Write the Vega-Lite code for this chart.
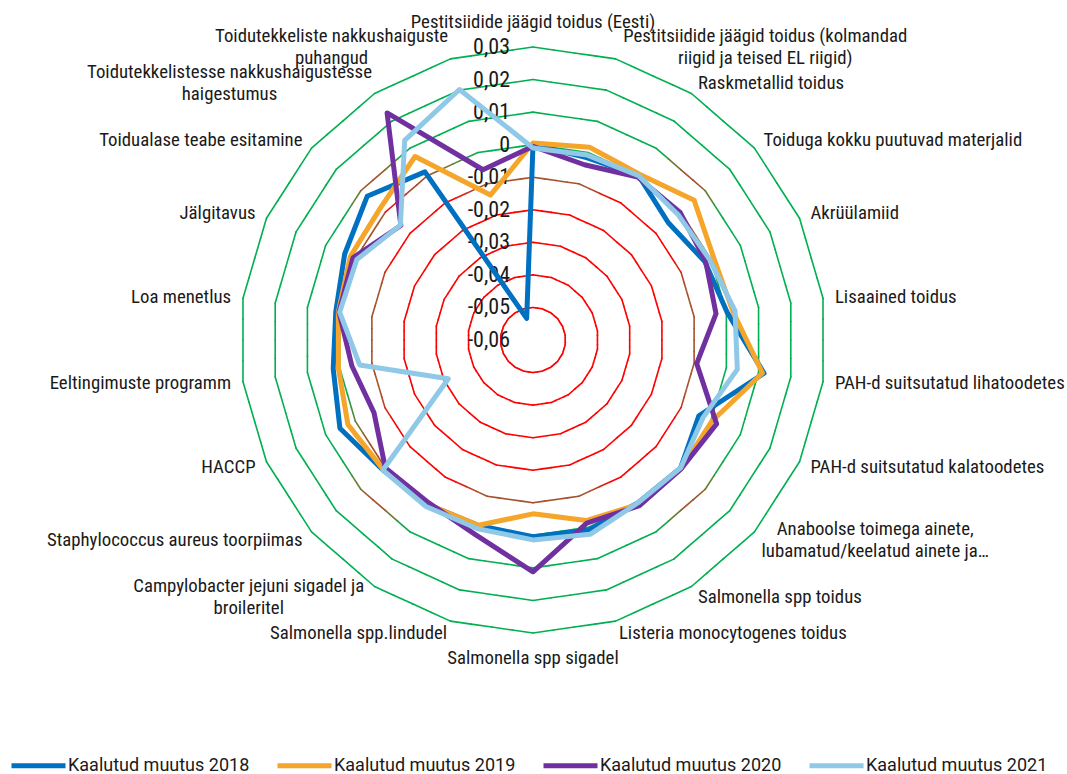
{
  "$schema": "https://vega.github.io/schema/vega-lite/v6.json",
  "width": 1067,
  "height": 774,
  "padding": 0,
  "autosize": {"type": "none"},
  "background": "white",
  "config": {"view": {"stroke": null}},
  "datasets": {
    "cats": [
      {"i": 0, "label": "Pestitsiidide jäägid toidus (Eesti)", "Kaalutud muutus 2018": 0, "Kaalutud muutus 2019": 0.0005, "Kaalutud muutus 2020": -0.0005, "Kaalutud muutus 2021": -0.001},
      {"i": 1, "label": "Pestitsiidide jäägid toidus (kolmandad\nriigid ja teised EL riigid)", "Kaalutud muutus 2018": -0.0016, "Kaalutud muutus 2019": 0.0017, "Kaalutud muutus 2020": -0.0039, "Kaalutud muutus 2021": -0.0008},
      {"i": 2, "label": "Raskmetallid toidus", "Kaalutud muutus 2018": 0, "Kaalutud muutus 2019": 0.0005, "Kaalutud muutus 2020": -0.0005, "Kaalutud muutus 2021": 0},
      {"i": 3, "label": "Toiduga kokku puutuvad materjalid", "Kaalutud muutus 2018": -0.005, "Kaalutud muutus 2019": 0.0055, "Kaalutud muutus 2020": -0.0002, "Kaalutud muutus 2021": -0.0011},
      {"i": 4, "label": "Akrüülamiid", "Kaalutud muutus 2018": -0.002, "Kaalutud muutus 2019": 0.001, "Kaalutud muutus 2020": -0.0017, "Kaalutud muutus 2021": -0.0004},
      {"i": 5, "label": "Lisaained toidus", "Kaalutud muutus 2018": 0.0002, "Kaalutud muutus 2019": 0.002, "Kaalutud muutus 2020": -0.0032, "Kaalutud muutus 2021": 0.0027},
      {"i": 6, "label": "PAH-d suitsutatud lihatoodetes", "Kaalutud muutus 2018": 0.0117, "Kaalutud muutus 2019": 0.0112, "Kaalutud muutus 2020": -0.0092, "Kaalutud muutus 2021": 0.0034},
      {"i": 7, "label": "PAH-d suitsutatud kalatoodetes", "Kaalutud muutus 2018": -0.004, "Kaalutud muutus 2019": 0.0003, "Kaalutud muutus 2020": 0.002, "Kaalutud muutus 2021": -0.0026},
      {"i": 8, "label": "Anaboolse toimega ainete,\nlubamatud/keelatud ainete ja…", "Kaalutud muutus 2018": 0, "Kaalutud muutus 2019": 0.0003, "Kaalutud muutus 2020": 0.0003, "Kaalutud muutus 2021": 0},
      {"i": 9, "label": "Salmonella spp toidus", "Kaalutud muutus 2018": -0.0005, "Kaalutud muutus 2019": 0, "Kaalutud muutus 2020": 0.0005, "Kaalutud muutus 2021": -0.0005},
      {"i": 10, "label": "Listeria monocytogenes toidus", "Kaalutud muutus 2018": 0.0008, "Kaalutud muutus 2019": -0.0022, "Kaalutud muutus 2020": -0.0014, "Kaalutud muutus 2021": 0.0022},
      {"i": 11, "label": "Salmonella spp sigadel", "Kaalutud muutus 2018": 0.0004, "Kaalutud muutus 2019": -0.0066, "Kaalutud muutus 2020": 0.0112, "Kaalutud muutus 2021": 0.0014},
      {"i": 12, "label": "Salmonella spp.lindudel", "Kaalutud muutus 2018": -0.0006, "Kaalutud muutus 2019": -0.0007, "Kaalutud muutus 2020": 0.0024, "Kaalutud muutus 2021": 0.0004},
      {"i": 13, "label": "Campylobacter jejuni sigadel ja\nbroileritel", "Kaalutud muutus 2018": 0, "Kaalutud muutus 2019": 0, "Kaalutud muutus 2020": -0.0006, "Kaalutud muutus 2021": 0.0008},
      {"i": 14, "label": "Staphylococcus aureus toorpiimas", "Kaalutud muutus 2018": 0.001, "Kaalutud muutus 2019": 0.0008, "Kaalutud muutus 2020": 0, "Kaalutud muutus 2021": 0.001},
      {"i": 15, "label": "HACCP", "Kaalutud muutus 2018": 0.0052, "Kaalutud muutus 2019": 0.0025, "Kaalutud muutus 2020": -0.0063, "Kaalutud muutus 2021": -0.0314},
      {"i": 16, "label": "Eeltingimuste programm", "Kaalutud muutus 2018": 0.002, "Kaalutud muutus 2019": 0.0004, "Kaalutud muutus 2020": -0.0038, "Kaalutud muutus 2021": -0.0062},
      {"i": 17, "label": "Loa menetlus", "Kaalutud muutus 2018": 0.0012, "Kaalutud muutus 2019": 0.0004, "Kaalutud muutus 2020": 0.0002, "Kaalutud muutus 2021": 0},
      {"i": 18, "label": "Jälgitavus", "Kaalutud muutus 2018": 0.0036, "Kaalutud muutus 2019": 0.0017, "Kaalutud muutus 2020": 0.0008, "Kaalutud muutus 2021": -0.0005},
      {"i": 19, "label": "Toidualase teabe esitamine", "Kaalutud muutus 2018": 0.0074, "Kaalutud muutus 2019": 0.002, "Kaalutud muutus 2020": -0.0063, "Kaalutud muutus 2021": -0.0061},
      {"i": 20, "label": "Toidutekkelistesse nakkushaigustesse\nhaigestumus", "Kaalutud muutus 2018": 0.0014, "Kaalutud muutus 2019": 0.007, "Kaalutud muutus 2020": 0.0229, "Kaalutud muutus 2021": 0.0129},
      {"i": 21, "label": "Toidutekkeliste nakkushaiguste\npuhangud", "Kaalutud muutus 2018": -0.0531, "Kaalutud muutus 2019": -0.0136, "Kaalutud muutus 2020": -0.0055, "Kaalutud muutus 2021": 0.0202}
    ],
    "levels": [
      {"lv": 0.03, "lab": "0,03", "seg": [0,1,2,3,4,5,6,7,8,9,10,11,12,13,14,15,16,17,18,19,20,21], "h": [0,1,2,3]},
      {"lv": 0.02, "lab": "0,02", "seg": [0,1,2,3,4,5,6,7,8,9,10,11,12,13,14,15,16,17,18,19,20,21], "h": [0,1,2,3]},
      {"lv": 0.01, "lab": "0,01", "seg": [0,1,2,3,4,5,6,7,8,9,10,11,12,13,14,15,16,17,18,19,20,21], "h": [0,1,2,3]},
      {"lv": 0, "lab": "0", "seg": [0,1,2,3,4,5,6,7,8,9,10,11,12,13,14,15,16,17,18,19,20,21], "h": [0,1,2,3]},
      {"lv": -0.01, "lab": "-0,01", "seg": [0,1,2,3,4,5,6,7,8,9,10,11,12,13,14,15,16,17,18,19,20,21], "h": [0,1,2,3]},
      {"lv": -0.02, "lab": "-0,02", "seg": [0,1,2,3,4,5,6,7,8,9,10,11,12,13,14,15,16,17,18,19,20,21], "h": [0,1,2,3]},
      {"lv": -0.03, "lab": "-0,03", "seg": [0,1,2,3,4,5,6,7,8,9,10,11,12,13,14,15,16,17,18,19,20,21], "h": [0,1,2,3]},
      {"lv": -0.04, "lab": "-0,04", "seg": [0,1,2,3,4,5,6,7,8,9,10,11,12,13,14,15,16,17,18,19,20,21], "h": [0,1,2,3]},
      {"lv": -0.05, "lab": "-0,05", "seg": [0,1,2,3,4,5,6,7,8,9,10,11,12,13,14,15,16,17,18,19,20,21], "h": [0,1,2,3]},
      {"lv": -0.06, "lab": "-0,06", "seg": [], "h": []}
    ]
  },
  "layer": [
    {
      "data": {"name": "levels"},
      "transform": [
        {"filter": "datum.lv > -0.0605"},
        {"flatten": ["seg"]},
        {"flatten": ["h"]},
        {"calculate": "(datum.lv + 0.06) / 0.09", "as": "r"},
        {"calculate": "datum.seg * 2 * PI / 22", "as": "A0"},
        {"calculate": "(datum.seg + 1) * 2 * PI / 22", "as": "A1"},
        {"calculate": "datum.r * sin(datum.A0)", "as": "x0v"},
        {"calculate": "datum.r * cos(datum.A0)", "as": "y0v"},
        {"calculate": "datum.r * sin(datum.A1)", "as": "x1v"},
        {"calculate": "datum.r * cos(datum.A1)", "as": "y1v"},
        {"calculate": "datum.x0v + datum.h / 4 * (datum.x1v - datum.x0v)", "as": "xa"},
        {"calculate": "datum.y0v + datum.h / 4 * (datum.y1v - datum.y0v)", "as": "ya"},
        {"calculate": "datum.x0v + (datum.h + 1) / 4 * (datum.x1v - datum.x0v)", "as": "xb"},
        {"calculate": "datum.y0v + (datum.h + 1) / 4 * (datum.y1v - datum.y0v)", "as": "yb"},
        {"calculate": "293 * max(abs(datum.xa + datum.xb), abs(datum.ya + datum.yb)) / 2", "as": "m"}
      ],
      "mark": {"type": "rule", "strokeWidth": 1.6, "strokeCap": "round"},
      "encoding": {
        "x": {"field": "xa", "type": "quantitative", "scale": {"domain": [-1.8191, 1.8225], "nice": false, "zero": false}, "axis": null},
        "y": {"field": "ya", "type": "quantitative", "scale": {"domain": [-1.4812, 1.1604], "nice": false, "zero": false}, "axis": null},
        "x2": {"field": "xb"},
        "y2": {"field": "yb"},
        "stroke": {"field": "m", "type": "quantitative", "scale": {"type": "linear", "domain": [140, 152, 165, 176, 188], "range": ["#ff0000", "#a5522c", "#a5522c", "#6a7c2e", "#00b050"], "clamp": true, "interpolate": "rgb"}, "legend": null}
      }
    },
    {
      "data": {"name": "levels"},
      "transform": [
        {"calculate": "(datum.lv + 0.06) / 0.09", "as": "r"},
        {"calculate": "0", "as": "x0"}
      ],
      "mark": {"type": "text", "align": "right", "baseline": "middle", "dx": -23, "font": "Roboto Condensed, Liberation Sans Narrow", "fontSize": 22, "color": "#1a1a1a"},
      "encoding": {
        "x": {"field": "x0", "type": "quantitative", "scale": {"domain": [-1.8191, 1.8225], "nice": false, "zero": false}, "axis": null},
        "y": {"field": "r", "type": "quantitative", "scale": {"domain": [-1.4812, 1.1604], "nice": false, "zero": false}, "axis": null},
        "text": {"field": "lab", "type": "nominal"}
      }
    },
    {
      "data": {"name": "cats"},
      "transform": [
        {"calculate": "datum.i * 2 * PI / 22", "as": "ang"},
        {"calculate": "sin(datum.ang)", "as": "s"},
        {"calculate": "cos(datum.ang)", "as": "c"},
        {"calculate": "split(datum.label, '\\n')", "as": "parts"},
        {"calculate": "length(datum.parts) > 1", "as": "ml"},
        {"calculate": "datum.ml ? max(length(datum.parts[0]), length(datum.parts[1])) : length(datum.label)", "as": "maxlen"},
        {"calculate": "(datum.ml && abs(datum.s) >= 0.1) ? datum.maxlen * 7.7 / 2 / 293 : 0", "as": "hw"},
        {"calculate": "abs(datum.s) < 0.1 ? 318 / 293 : 305 / 293", "as": "R"},
        {"calculate": "datum.R * datum.s + (datum.s > 0 ? 1 : -1) * datum.hw", "as": "lx"},
        {"calculate": "datum.R * datum.c + (length(datum.parts) - 1) * 11 / 293", "as": "ly"},
        {"calculate": "(abs(datum.s) < 0.1 || datum.ml) ? 'c' : (datum.s > 0 ? 'l' : 'r')", "as": "grp"}
      ],
      "layer": [
        {
          "transform": [{"filter": "datum.grp == 'l'"}],
          "mark": {"type": "text", "align": "left", "baseline": "middle", "font": "Roboto Condensed, Liberation Sans Narrow", "fontSize": 18.8, "color": "#1a1a1a"},
          "encoding": {
            "x": {"field": "lx", "type": "quantitative", "scale": {"domain": [-1.8191, 1.8225], "nice": false, "zero": false}, "axis": null},
            "y": {"field": "ly", "type": "quantitative", "scale": {"domain": [-1.4812, 1.1604], "nice": false, "zero": false}, "axis": null},
            "text": {"field": "label", "type": "nominal"}
          }
        },
        {
          "transform": [{"filter": "datum.grp == 'r'"}],
          "mark": {"type": "text", "align": "right", "baseline": "middle", "font": "Roboto Condensed, Liberation Sans Narrow", "fontSize": 18.8, "color": "#1a1a1a"},
          "encoding": {
            "x": {"field": "lx", "type": "quantitative", "scale": {"domain": [-1.8191, 1.8225], "nice": false, "zero": false}, "axis": null},
            "y": {"field": "ly", "type": "quantitative", "scale": {"domain": [-1.4812, 1.1604], "nice": false, "zero": false}, "axis": null},
            "text": {"field": "label", "type": "nominal"}
          }
        },
        {
          "transform": [{"filter": "datum.grp == 'c'"}],
          "mark": {"type": "text", "align": "center", "baseline": "middle", "lineBreak": "\n", "lineHeight": 22, "font": "Roboto Condensed, Liberation Sans Narrow", "fontSize": 18.8, "color": "#1a1a1a"},
          "encoding": {
            "x": {"field": "lx", "type": "quantitative", "scale": {"domain": [-1.8191, 1.8225], "nice": false, "zero": false}, "axis": null},
            "y": {"field": "ly", "type": "quantitative", "scale": {"domain": [-1.4812, 1.1604], "nice": false, "zero": false}, "axis": null},
            "text": {"field": "label", "type": "nominal"}
          }
        }
      ]
    },
    {
      "data": {"name": "cats"},
      "transform": [
        {"fold": ["Kaalutud muutus 2018", "Kaalutud muutus 2019", "Kaalutud muutus 2020", "Kaalutud muutus 2021"], "as": ["s", "v"]},
        {"calculate": "(datum.v + 0.06) / 0.09", "as": "r"},
        {"calculate": "datum.i * 2 * PI / 22", "as": "ang"},
        {"calculate": "datum.r * sin(datum.ang)", "as": "px"},
        {"calculate": "datum.r * cos(datum.ang)", "as": "py"}
      ],
      "mark": {"type": "line", "interpolate": "linear-closed", "strokeWidth": 5, "strokeJoin": "round"},
      "encoding": {
        "x": {"field": "px", "type": "quantitative", "scale": {"domain": [-1.8191, 1.8225], "nice": false, "zero": false}, "axis": null},
        "y": {"field": "py", "type": "quantitative", "scale": {"domain": [-1.4812, 1.1604], "nice": false, "zero": false}, "axis": null},
        "order": {"field": "i", "type": "quantitative"},
        "color": {
          "field": "s",
          "type": "nominal",
          "scale": {"domain": ["Kaalutud muutus 2018", "Kaalutud muutus 2019", "Kaalutud muutus 2020", "Kaalutud muutus 2021"], "range": ["#0070c0", "#f4a52a", "#7030a0", "#90c8e8"]},
          "legend": {"orient": "none", "legendX": 9, "legendY": 736, "direction": "horizontal", "title": null, "symbolType": "stroke", "symbolSize": 2916, "symbolStrokeWidth": 5, "labelFont": "Roboto", "labelFontSize": 18, "labelColor": "#1a1a1a", "labelOffset": 0, "labelLimit": 400, "columnPadding": 17}
        }
      }
    }
  ]
}
